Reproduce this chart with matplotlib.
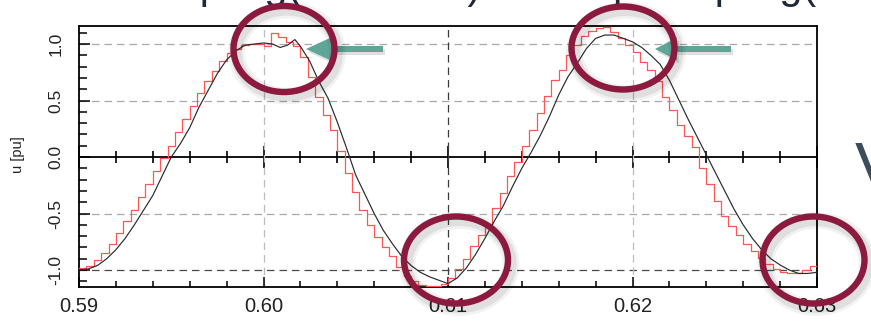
import numpy as np
import matplotlib
matplotlib.use('Agg')
import matplotlib.pyplot as plt
from matplotlib.patches import Ellipse, FancyArrow
from matplotlib.ticker import MultipleLocator

plt.rcParams['font.family'] = ['Liberation Sans', 'DejaVu Sans']

# sampled (stair) signal, one value per sample period
t_start = 0.59
t_sample = 0.0004
red_u = [-0.98, -0.96, -0.91, -0.85, -0.77, -0.67, -0.57, -0.47, -0.35, -0.24,
         -0.12, -0.01, 0.10, 0.22, 0.34, 0.45, 0.57, 0.67, 0.76, 0.85,
         0.92, 0.96, 0.99, 1.00, 1.00, 0.98, 1.10, 1.06, 1.02, 0.98,
         0.89, 0.71, 0.53, 0.37, 0.24, 0.05, -0.14, -0.31, -0.47, -0.60,
         -0.71, -0.80, -0.88, -0.97, -1.05, -1.10, -1.13, -1.14, -1.14, -1.12,
         -1.07, -0.99, -0.90, -0.79, -0.69, -0.59, -0.45, -0.32, -0.17, -0.04,
         0.10, 0.24, 0.39, 0.54, 0.68, 0.77, 0.90, 0.99, 1.07, 1.12,
         1.14, 1.15, 1.11, 1.05, 0.99, 0.93, 0.84, 0.77, 0.67, 0.53,
         0.42, 0.28, 0.19, 0.09, -0.10, -0.24, -0.39, -0.52, -0.61, -0.69,
         -0.77, -0.83, -0.89, -0.95, -0.99, -1.02, -1.03, -1.03, -1.00, -0.96]

# continuous (black) signal
black_t = [0.5900, 0.5905, 0.5910, 0.5915, 0.5920, 0.5925, 0.5930, 0.5935, 0.5940, 0.5945,
           0.5950, 0.5955, 0.5960, 0.5965, 0.5970, 0.5975, 0.5980, 0.5985, 0.5990, 0.5995,
           0.6000, 0.6005, 0.6009, 0.6013, 0.6017, 0.6020, 0.6025, 0.6030, 0.6035, 0.6040,
           0.6045, 0.6050, 0.6055, 0.6060, 0.6065, 0.6070, 0.6075, 0.6080, 0.6085, 0.6090,
           0.6095, 0.6100, 0.6105, 0.6110, 0.6115, 0.6120, 0.6125, 0.6130, 0.6135, 0.6140,
           0.6145, 0.6150, 0.6155, 0.6160, 0.6165, 0.6170, 0.6175, 0.6180, 0.6185, 0.6190,
           0.6195, 0.6200, 0.6205, 0.6210, 0.6215, 0.6220, 0.6225, 0.6230, 0.6235, 0.6240,
           0.6245, 0.6250, 0.6255, 0.6260, 0.6265, 0.6270, 0.6275, 0.6280, 0.6285, 0.6290,
           0.6295, 0.6300]
black_u = [-1.00, -0.99, -0.96, -0.90, -0.82, -0.72, -0.60, -0.47, -0.34, -0.17,
           0.00, 0.12, 0.26, 0.44, 0.59, 0.74, 0.86, 0.94, 0.99, 1.00,
           1.01, 1.00, 0.97, 0.99, 1.04, 0.98, 0.85, 0.67, 0.52, 0.31,
           0.08, -0.16, -0.33, -0.50, -0.65, -0.77, -0.88, -0.96, -1.02, -1.06,
           -1.09, -1.12, -1.07, -0.98, -0.86, -0.72, -0.57, -0.43, -0.26, -0.10,
           0.04, 0.19, 0.36, 0.55, 0.71, 0.83, 0.96, 1.05, 1.08, 1.08,
           1.05, 1.02, 0.97, 0.90, 0.82, 0.68, 0.51, 0.34, 0.18, 0.02,
           -0.14, -0.30, -0.46, -0.60, -0.72, -0.82, -0.90, -0.955, -1.00, -1.03,
           -1.03, -1.02]

x_ticks = [0.59, 0.60, 0.61, 0.62, 0.63]
y_ticks = [-1.0, -0.5, 0.0, 0.5, 1.0]

W, H = 871, 323
fig = plt.figure(figsize=(W / 100, H / 100), dpi=100)
ax = fig.add_axes([79 / W, 1 - 287 / H, 738 / W, 261 / H])
ax.set_xlim(0.59, 0.63)
ax.set_ylim(-1.15, 1.16)

# dashed grid, some lines darker like in the original
dash = (0, (6, 4))
for y in y_ticks:
    if y == 0.0:
        continue
    ax.axhline(y, color='#4a4a4a' if y == -1.0 else '#a8a8a8', lw=0.9, ls=dash, zorder=1)
for x in x_ticks[1:-1]:
    ax.axvline(x, color='#3a3a3a' if x == 0.61 else '#bdbdbd', lw=0.9, ls=dash, zorder=1)

edges = t_start + t_sample * np.arange(len(red_u) + 1)
ax.step(edges, np.append(red_u, red_u[-1]), where='post', color='#ff5555', lw=0.9, zorder=3)
ax.plot(black_t, black_u, color='#2a2a2a', lw=0.85, zorder=4)

for s in ax.spines.values():
    s.set_linewidth(1.3)

ax.set_xticks(x_ticks)
ax.set_xticklabels([f'{v:.2f}' for v in x_ticks], fontsize=14.5, color='#222222')
ax.xaxis.set_minor_locator(MultipleLocator(0.002))
ax.tick_params(axis='x', which='major', direction='in', length=7, width=1.1, pad=7, top=False)
ax.tick_params(axis='x', which='minor', direction='in', length=4, width=1.1, top=False)

ax.set_yticks(y_ticks)
ax.set_yticklabels([f'{v:.1f}' for v in y_ticks], fontsize=12.5, rotation=90, va='center',
                   color='#222222')
ax.yaxis.set_minor_locator(MultipleLocator(0.1))
ax.tick_params(axis='y', which='major', direction='in', length=8, width=1.1, pad=11, right=False)
ax.tick_params(axis='y', which='minor', direction='in', length=5.5, width=1.1, right=False)

# axis line through zero with crossing ticks
ylo, yhi = ax.get_ylim()
sec = ax.secondary_xaxis((0 - ylo) / (yhi - ylo))
sec.set_xticks(x_ticks)
sec.xaxis.set_minor_locator(MultipleLocator(0.002))
sec.tick_params(which='major', direction='inout', length=16, width=1.2, labelbottom=False)
sec.tick_params(which='minor', direction='inout', length=8, width=1.2, labelbottom=False)
sec.spines['bottom'].set_linewidth(1.3)

fig.text(18 / W, 1 - 155 / H, 'u [pu]', rotation=90, fontsize=10.5, ha='center', va='center',
         color='#222222')

# slide text around the chart (mostly cut off at the top edge)
title_c = '#1e2a38'
top_y = 1 + 2 / H
fig.text(302 / W, top_y, 'Downsampling(', fontsize=30, ha='right', va='baseline', color=title_c)
fig.text(481 / W, top_y, '5 kHz)', fontsize=30, ha='right', va='baseline', color=title_c)
fig.text(817 / W, top_y, 'Upsampling(', fontsize=30, ha='right', va='baseline', color=title_c)
fig.text(855 / W, 1 - 141 / H, 'V', fontsize=48, ha='left', va='top', color='#3b4d5a')

# overlay in pixel coordinates for the highlight marks
ov = fig.add_axes([0, 0, 1, 1], zorder=10)
ov.set_xlim(0, W)
ov.set_ylim(H, 0)
ov.axis('off')
ov.patch.set_alpha(0)

teal = '#5fa697'
for tail, tip, hl in [(383, 306, 25), (731, 655, 22)]:
    ov.add_patch(FancyArrow(tail + 2, 52, tip - tail, 0, width=6, head_width=23, head_length=hl,
                            length_includes_head=True, color='#000000', alpha=0.12, lw=0))
    ov.add_patch(FancyArrow(tail, 49, tip - tail, 0, width=6, head_width=23, head_length=hl,
                            length_includes_head=True, color=teal, lw=0))

rings = [((284, 49), 101, 86), ((623, 48), 103, 83), ((456, 260), 104, 87), ((813.5, 260), 102, 87)]
for (cx, cy), w, h in rings:
    ov.add_patch(Ellipse((cx + 3, cy + 4), w, h, fill=False, ec='#000000', lw=12, alpha=0.05))
    ov.add_patch(Ellipse((cx + 3, cy + 4), w, h, fill=False, ec='#000000', lw=8, alpha=0.08))
    ov.add_patch(Ellipse((cx, cy), w, h, fill=False, ec='#8b1a3e', lw=4.6))

fig.savefig('out.png', dpi=100)
